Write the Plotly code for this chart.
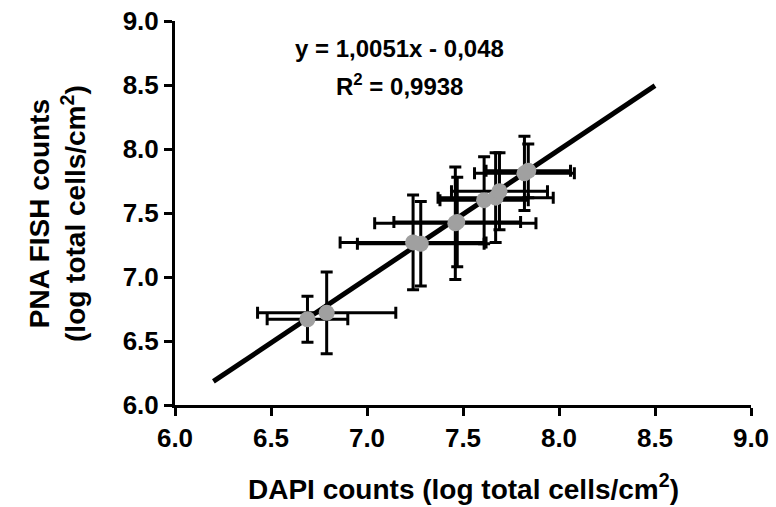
import plotly.graph_objects as go

# Data
dapi = [6.69, 6.79, 7.24, 7.28, 7.46, 7.47, 7.61, 7.67, 7.69, 7.82, 7.84]
pna = [6.67, 6.72, 7.27, 7.26, 7.42, 7.43, 7.60, 7.62, 7.67, 7.81, 7.83]
dapi_err = [0.21, 0.36, 0.38, 0.33, 0.42, 0.33, 0.23, 0.30, 0.25, 0.26, 0.22]
pna_err = [0.18, 0.32, 0.37, 0.33, 0.44, 0.35, 0.34, 0.35, 0.30, 0.29, 0.21]

fit_x = [6.2, 8.5]
fit_y = [6.184, 8.495]

tick_vals = [6.0, 6.5, 7.0, 7.5, 8.0, 8.5, 9.0]
tick_text = ["6.0", "6.5", "7.0", "7.5", "8.0", "8.5", "9.0"]

eq_text = "y = 1,0051x - 0,048"
r2_text = "R<sup>2</sup> = 0,9938"
x_title = "DAPI counts (log total cells/cm<sup>2</sup>)"
y_title = "PNA FISH counts<br>(log total cells/cm<sup>2</sup>)"

FONT = "Arial, 'Liberation Sans', sans-serif"

fig = go.Figure()
fig.add_trace(go.Scatter(
    x=fit_x, y=fit_y, mode="lines",
    line=dict(color="black", width=5), hoverinfo="skip", showlegend=False))
fig.add_trace(go.Scatter(
    x=dapi, y=pna, mode="markers",
    marker=dict(size=16, color="#a0a0a0", line=dict(width=0)),
    error_x=dict(type="data", array=dapi_err, color="black", thickness=3, width=6),
    error_y=dict(type="data", array=pna_err, color="black", thickness=3, width=6),
    showlegend=False))

axis_common = dict(
    range=[6, 9], tickvals=tick_vals, ticktext=tick_text,
    showline=True, linecolor="black", linewidth=3,
    ticks="outside", ticklen=8, tickwidth=3, tickcolor="black",
    showgrid=False, zeroline=False, automargin=False,
    ticklabeloverflow="allow",
    tickfont=dict(family=FONT, size=26, color="black", weight="bold"),
)

fig.update_layout(
    template="none",
    width=776, height=507,
    margin=dict(l=175, r=25, t=21, b=102, autoexpand=False),
    paper_bgcolor="white", plot_bgcolor="white",
    xaxis=dict(**axis_common),
    yaxis=dict(**axis_common),
    font=dict(family=FONT, color="black"),
)

fig.add_annotation(text=eq_text, x=7.17, y=8.785, xref="x", yref="y",
                   showarrow=False, font=dict(family=FONT, size=24, color="black", weight="bold"))
fig.add_annotation(text=r2_text, x=7.17, y=8.50, xref="x", yref="y",
                   showarrow=False, font=dict(family=FONT, size=24, color="black", weight="bold"))
fig.add_annotation(text=x_title, x=0.5017, y=-0.2134, xref="paper", yref="paper",
                   xanchor="center", yanchor="middle", showarrow=False,
                   font=dict(family=FONT, size=28, color="black", weight="bold"))
fig.add_annotation(text=y_title, x=-0.2049, y=0.5, xref="paper", yref="paper",
                   xanchor="center", yanchor="middle", textangle=-90, showarrow=False,
                   font=dict(family=FONT, size=28, color="black", weight="bold"))

# remove the default 8px page margin so the figure fills the window exactly
fig.write_html("out.html",
               config={"displayModeBar": False},
               post_script="document.body.style.margin='0';document.body.style.overflow='hidden';")
